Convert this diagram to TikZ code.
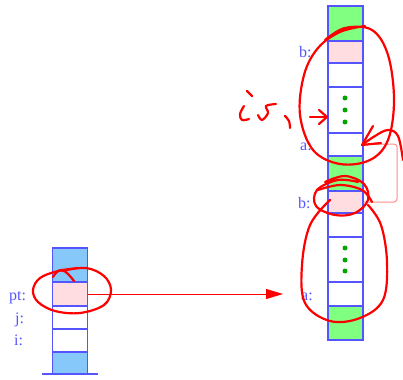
\documentclass[tikz,border=0pt]{standalone}
\usepackage{fontspec}
\setmainfont{Liberation Serif}
\usetikzlibrary{arrows.meta}
\definecolor{stk}{RGB}{85,85,255}
\definecolor{lblue}{RGB}{135,200,250}
\definecolor{lgreen}{RGB}{128,255,128}
\definecolor{lpink}{RGB}{255,221,225}
\definecolor{dgreen}{RGB}{0,165,0}
\definecolor{lred}{RGB}{255,140,140}
\begin{document}
\begin{tikzpicture}[x=1pt,y=-1pt,
  cell/.style={draw=stk,line width=1.3pt,rectangle,inner sep=0pt,minimum width=35pt},
  lab/.style={text=stk,font=\fontsize{16}{18}\selectfont,inner sep=0pt,anchor=base west},
  gdot/.style={circle,fill=dgreen,inner sep=0pt,minimum size=5pt},
  hand/.style={draw=red,line width=2.2pt,line cap=round,line join=round},
  ptr/.style={draw=red,line width=1pt,-{Triangle[length=17pt,width=10pt]}},
  back/.style={draw=lred,line width=1pt,rounded corners=3pt}]
\useasboundingbox (0,0) rectangle (403,379);
% left stack (x 53..87)
\node[cell,fill=lblue,minimum height=34pt] (L1) at (70,265) {};
\node[cell,fill=lpink,minimum height=24pt] (Lpt) at (70,294) {};
\node[cell,fill=white,minimum height=23pt] (Lj) at (70,317.5) {};
\node[cell,fill=white,minimum height=23pt] (Li) at (70,340.5) {};
\node[cell,fill=lblue,minimum height=22pt] (L5) at (70,363) {};
\coordinate (bl) at (42,374);
\coordinate (br) at (98,374);
\draw[stk,line width=1.3pt] (bl) -- (br);
\node[lab] (tpt) at (9,300) {pt:};
\node[lab] (tj) at (15,323) {j:};
\node[lab] (ti) at (14,345) {i:};
% right stack (x 328..363)
\node[cell,fill=lgreen,minimum height=35pt] (R1) at (345.5,23.5) {};
\node[cell,fill=lpink,minimum height=22pt] (Rb1) at (345.5,52) {};
\node[cell,fill=white,minimum height=24pt] (R3) at (345.5,75) {};
\node[cell,fill=white,minimum height=46pt] (R4) at (345.5,110) {};
\node[cell,fill=white,minimum height=23pt] (Ra1) at (345.5,144.5) {};
\node[cell,fill=lgreen,minimum height=35pt] (R6) at (345.5,173.5) {};
\node[cell,fill=lpink,minimum height=22pt] (Rb2) at (345.5,202) {};
\node[cell,fill=white,minimum height=24pt] (R8) at (345.5,225) {};
\node[cell,fill=white,minimum height=45pt] (R9) at (345.5,259.5) {};
\node[cell,fill=white,minimum height=24pt] (Ra2) at (345.5,294) {};
\node[cell,fill=lgreen,minimum height=34pt] (R11) at (345.5,323) {};
\node[gdot] (d1) at (345,98) {};
\node[gdot] (d2) at (345,110) {};
\node[gdot] (d3) at (345,122) {};
\node[gdot] (d4) at (345,248) {};
\node[gdot] (d5) at (345,260) {};
\node[gdot] (d6) at (345,271) {};
\node[lab] (tb1) at (299,58) {b:};
\node[lab] (ta1) at (300,150) {a:};
\node[lab] (tb2) at (298,208) {b:};
\node[lab] (ta2) at (301,300) {a:};
% pointer arrow pt -> a
\coordinate (tip) at (283,294);
\draw[ptr] (Lpt.east) -- (tip);
% back pointer b -> a (light red)
\coordinate (c1) at (397,202);
\coordinate (c2) at (397,144);
\draw[back] (Rb2.east) -- (c1) -- (c2) -- (Ra1.east);
% hand-drawn annotations
\draw[hand] plot[smooth,tension=0.6] coordinates {(62,271) (86,268) (104,276) (111,290) (104,305) (80,313) (55,311) (38,302) (33,290) (40,278) (58,271) (78,268)};
\draw[hand] plot[smooth,tension=0.8] coordinates {(53,277) (62,270) (74,281)};
\draw[hand] plot[smooth,tension=0.6] coordinates {(325,40) (345,28) (372,30) (388,55) (394,100) (388,140) (370,160) (340,164) (313,150) (300,115) (304,75) (318,48) (340,32) (365,26)};
\draw[hand] plot[smooth,tension=0.6] coordinates {(330,200) (310,225) (302,265) (305,303) (330,321) (360,318) (383,300) (387,262) (381,225) (368,205)};
\draw[hand] plot[smooth,tension=0.6] coordinates {(325,182) (345,176) (364,184) (368,200) (355,213) (335,215) (316,206) (317,190) (338,180) (358,182)};
\draw[hand] plot[smooth,tension=0.6] coordinates {(318,190) (340,185) (362,190) (372,202)};
\draw[hand] plot[smooth,tension=0.6] coordinates {(403,160) (398,136) (388,130) (375,136) (362,145)};
\draw[hand] (373,126) -- (362,145) -- (381,143);
% "i" like strokes
\draw[hand] (247,91) -- (252,96);
\draw[hand] plot[smooth,tension=0.6] coordinates {(244,106) (240,114) (242,120) (249,119)};
\draw[hand] plot[smooth,tension=0.6] coordinates {(276,104) (266,106) (268,113) (262,120) (258,115)};
\draw[hand] plot[smooth,tension=0.6] coordinates {(285,116) (289,121) (290,128)};
\draw[hand] (310,117) -- (327,117);
\draw[hand] (319,110) -- (327,117) -- (319,124);
\end{tikzpicture}
\end{document}
